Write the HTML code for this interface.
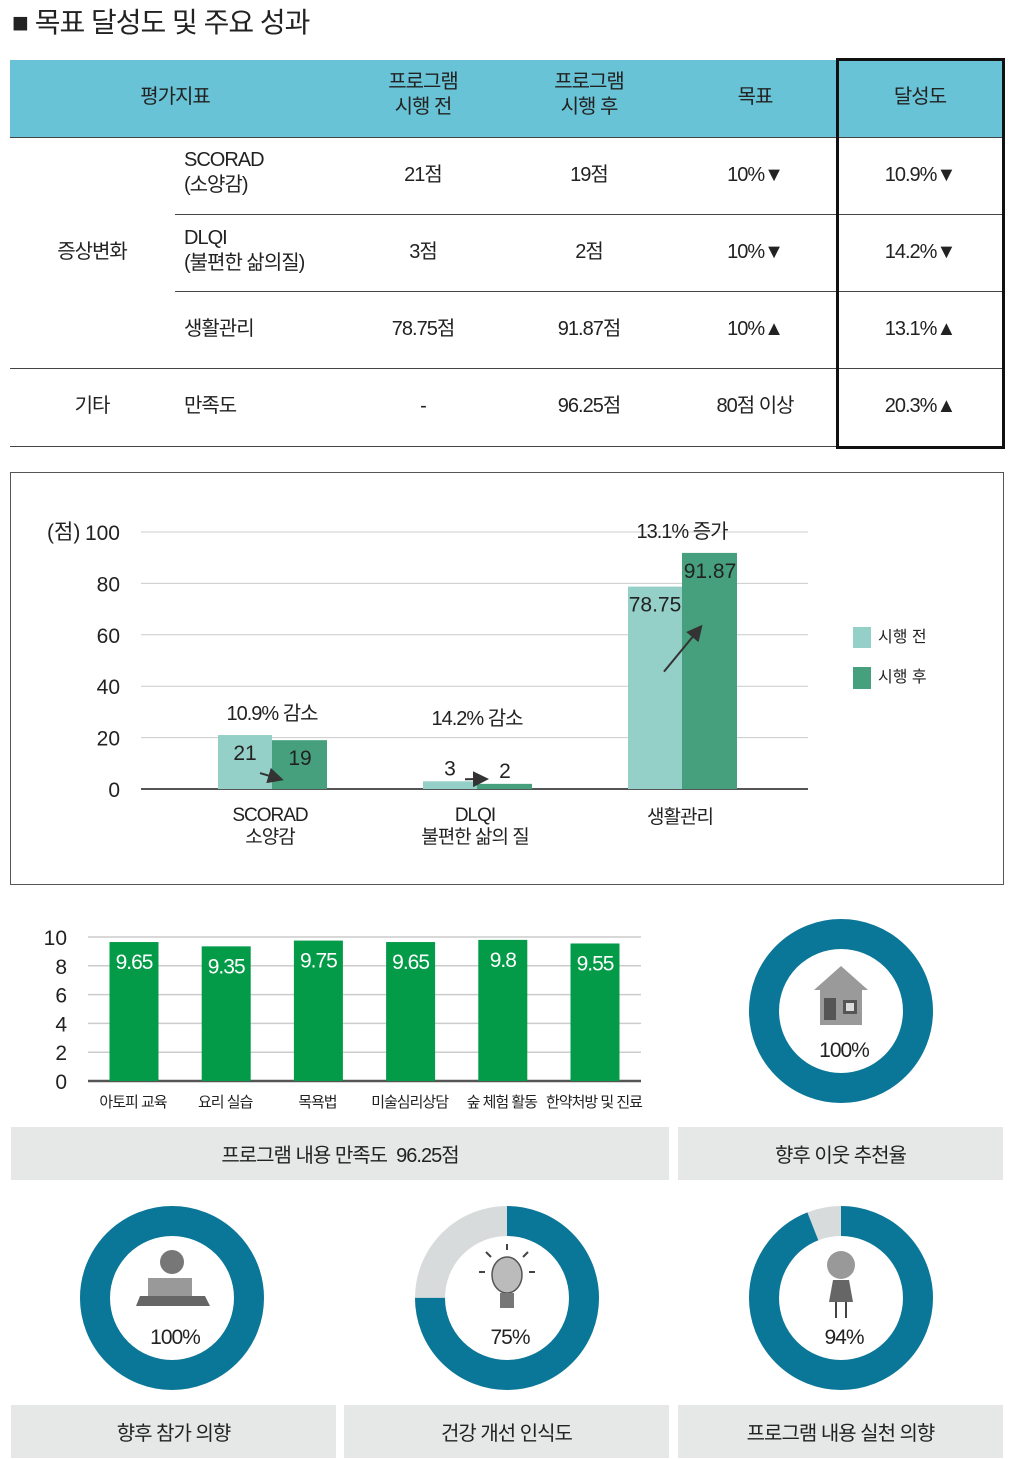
<!DOCTYPE html>
<html><head><meta charset="utf-8">
<style>
body{margin:0;width:1024px;height:1459px;background:#fff;position:relative;overflow:hidden;font-family:"Liberation Sans","Noto Sans CJK KR",sans-serif;color:#222;}
.a{position:absolute;white-space:nowrap;}
.c{transform:translateX(-50%);text-align:center;}
.t{font-size:20px;letter-spacing:-1px;line-height:25px;}
.hl{position:absolute;height:1px;background:#444;}
.lab{position:absolute;background:#e6e7e7;font-size:20px;letter-spacing:-1px;display:flex;align-items:center;justify-content:center;}
</style></head><body>
<div class="a" style="left:12px;top:1px;font-size:28px;letter-spacing:-1px;">■ 목표 달성도 및 주요 성과</div>

<div>
<div class="a" style="left:10px;top:60px;width:993px;height:77px;background:#69c3d6;"></div>
<div class="a t c" style="left:175px;top:85px;">평가지표</div>
<div class="a t c" style="left:423px;top:70px;">프로그램<br>시행 전</div>
<div class="a t c" style="left:589px;top:70px;">프로그램<br>시행 후</div>
<div class="a t c" style="left:755px;top:85px;">목표</div>
<div class="a t c" style="left:920px;top:85px;">달성도</div>
<div class="hl" style="left:10px;top:137px;width:993px;"></div>
<div class="hl" style="left:175px;top:214px;width:828px;"></div>
<div class="hl" style="left:175px;top:291px;width:828px;"></div>
<div class="hl" style="left:10px;top:368px;width:993px;"></div>
<div class="hl" style="left:10px;top:446px;width:993px;"></div>
<div class="a t c" style="left:92px;top:240px;">증상변화</div>
<div class="a t c" style="left:92px;top:394px;">기타</div>
<div class="a t" style="left:184px;top:148px;">SCORAD<br>(소양감)</div>
<div class="a t" style="left:184px;top:226px;">DLQI<br>(불편한 삶의질)</div>
<div class="a t" style="left:184px;top:317px;">생활관리</div>
<div class="a t" style="left:184px;top:394px;">만족도</div>
<div class="a t c" style="left:423px;top:163px;">21점</div><div class="a t c" style="left:589px;top:163px;">19점</div><div class="a t c" style="left:755px;top:163px;">10%▼</div><div class="a t c" style="left:920px;top:163px;">10.9%▼</div>
<div class="a t c" style="left:423px;top:240px;">3점</div><div class="a t c" style="left:589px;top:240px;">2점</div><div class="a t c" style="left:755px;top:240px;">10%▼</div><div class="a t c" style="left:920px;top:240px;">14.2%▼</div>
<div class="a t c" style="left:423px;top:317px;">78.75점</div><div class="a t c" style="left:589px;top:317px;">91.87점</div><div class="a t c" style="left:755px;top:317px;">10%▲</div><div class="a t c" style="left:920px;top:317px;">13.1%▲</div>
<div class="a t c" style="left:423px;top:394px;">-</div><div class="a t c" style="left:589px;top:394px;">96.25점</div><div class="a t c" style="left:755px;top:394px;">80점 이상</div><div class="a t c" style="left:920px;top:394px;">20.3%▲</div>
<div class="a" style="left:836px;top:58px;width:163px;height:385px;border:3px solid #111;"></div>
</div>

<div class="a" style="left:10px;top:472px;width:992px;height:411px;border:1px solid #555;"></div>
<svg class="a" style="left:0;top:0" width="1024" height="1459" id="svg"></svg>

<div class="lab" style="left:11px;top:1127px;width:658px;height:53px;">프로그램 내용 만족도 &nbsp;96.25점</div>
<div class="lab" style="left:678px;top:1127px;width:325px;height:53px;">향후 이웃 추천율</div>
<div class="lab" style="left:11px;top:1405px;width:325px;height:53px;">향후 참가 의향</div>
<div class="lab" style="left:344px;top:1405px;width:325px;height:53px;">건강 개선 인식도</div>
<div class="lab" style="left:678px;top:1405px;width:325px;height:53px;">프로그램 내용 실천 의향</div>

<script>
const groups=["SCORAD\n소양감","DLQI\n불편한 삶의 질","생활관리"];
const beforeVals=[21,3,78.75];
const afterVals=[19,2,91.87];
const changeLabels=["10.9% 감소","14.2% 감소","13.1% 증가"];
const yTicks1=[0,20,40,60,80,100];
const acts=["아토피 교육","요리 실습","목욕법","미술심리상담","숲 체험 활동","한약처방 및 진료"];
const actVals=[9.65,9.35,9.75,9.65,9.8,9.55];
const yTicks2=[0,2,4,6,8,10];
const donutLabels=["100%","100%","75%","94%"];
const donutVals=[100,100,75,94];

const NS="http://www.w3.org/2000/svg";
const svg=document.getElementById('svg');
function mk(tag,at,txt){const e=document.createElementNS(NS,tag);for(const k in at)e.setAttribute(k,at[k]);if(txt!=null)e.textContent=txt;svg.appendChild(e);return e;}
const F='"Liberation Sans","Noto Sans CJK KR",sans-serif';

// chart 1
const y1=v=>789-v*2.57;
const gx=i=>272+i*205;
yTicks1.forEach(t=>{
  const l=mk('line',{x1:141,x2:808,y1:y1(t),y2:y1(t),stroke:t===0?'#555':'#ccc','stroke-width':t===0?2:1});
  
  const tx=mk('text',{x:120,y:y1(t)+8,'text-anchor':'end','font-size':21,'font-family':F,fill:'#222'},t);
  
});
mk('text',{x:47,y:y1(100)+7,'font-size':21,'font-family':F,fill:'#222'},'(점)');
mk('defs',{}).innerHTML='<marker id="ah" markerWidth="8" markerHeight="8" refX="6" refY="4" orient="auto"><path d="M0,0L8,4L0,8z" fill="#333"/></marker>';
groups.forEach((g,i)=>{
  const x=gx(i);
  const b=mk('rect',{x:x-54,y:y1(beforeVals[i]),width:54,height:y1(0)-y1(beforeVals[i]),fill:'#95d0c8'});
  
  const a=mk('rect',{x:x,y:y1(afterVals[i]),width:55,height:y1(0)-y1(afterVals[i]),fill:'#46a07e'});
  
  const top=Math.max(beforeVals[i],afterVals[i]);
  mk('text',{x:x,y:Math.min(y1(top)-15,725),'text-anchor':'middle','font-size':20,'font-family':F,fill:'#222','letter-spacing':-1},changeLabels[i]);
  const bIn=beforeVals[i]>=10, aIn=afterVals[i]>=10;
  mk('text',{x:x-27,y:bIn?y1(beforeVals[i])+25:y1(beforeVals[i])-6,'text-anchor':'middle','font-size':21,'font-family':F,fill:'#222'},String(beforeVals[i]));
  mk('text',{x:x+28,y:aIn?y1(afterVals[i])+25:y1(afterVals[i])-6,'text-anchor':'middle','font-size':21,'font-family':F,fill:'#222'},String(afterVals[i]));
  g.split('\n').forEach((s,j)=>mk('text',{x:x-2,y:821+j*22+(i===2?2:0),'text-anchor':'middle','font-size':19,'font-family':F,fill:'#222','letter-spacing':-1},s));
  // trend arrow
  const ax1=x-12, ay1=(bIn?y1(beforeVals[i])+38:y1(beforeVals[i])-2);
  const ay2=afterVals[i]>beforeVals[i]? y1(afterVals[i])+75 : y1(0)-10;
  const ayStart=afterVals[i]>beforeVals[i]? y1(beforeVals[i])+85 : ay1;
  mk('line',{x1:afterVals[i]>beforeVals[i]?x-18:ax1,y1:ayStart,x2:afterVals[i]>beforeVals[i]?x+18:x+8,y2:ay2,stroke:'#333','stroke-width':2,'marker-end':'url(#ah)'});
});
mk('rect',{x:853,y:627,width:18,height:21,fill:'#95d0c8'});
mk('text',{x:878,y:642,'font-size':16,'font-family':F,fill:'#222'},'시행 전');
mk('rect',{x:853,y:667,width:18,height:22,fill:'#46a07e'});
mk('text',{x:878,y:682,'font-size':16,'font-family':F,fill:'#222'},'시행 후');

// chart 2
const y2=v=>1081-v*14.4;
const ax=i=>134+i*92.2;
yTicks2.forEach(t=>{
  mk('line',{x1:88,x2:641,y1:y2(t),y2:y2(t),stroke:t===0?'#555':'#ccc','stroke-width':t===0?2.5:1.5});
  mk('text',{x:67,y:y2(t)+8,'text-anchor':'end','font-size':21,'font-family':F,fill:'#222'},t);
});
acts.forEach((s,i)=>{
  const r=mk('rect',{x:ax(i)-24.5,y:y2(actVals[i]),width:49,height:y2(0)-y2(actVals[i]),fill:'#039b48'});
  
  mk('text',{x:ax(i),y:y2(actVals[i])+27,'text-anchor':'middle','font-size':21,'font-family':F,fill:'#fff','letter-spacing':-1},String(actVals[i]));
  mk('text',{x:ax(i)-1,y:1107,'text-anchor':'middle','font-size':15,'font-family':F,fill:'#222','letter-spacing':-1},s);
});

// donuts
const centers=[[841,1011],[172,1298],[507,1298],[841,1298]];
donutVals.forEach((v,i)=>{
  const [cx,cy]=centers[i];const R=77,W=30;
  mk('circle',{cx,cy,r:R,fill:'none',stroke:'#d8dbdc','stroke-width':W});
  const circ=2*Math.PI*R;
  const c=mk('circle',{cx,cy,r:R,fill:'none',stroke:'#0a7799','stroke-width':W,'stroke-dasharray':(circ*v/100)+' '+circ,transform:`rotate(-90 ${cx} ${cy})`});
  
  mk('text',{x:cx+3,y:cy+46,'text-anchor':'middle','font-size':21,'font-family':F,fill:'#222','letter-spacing':-1},donutLabels[i]);
});
// icons
mk('path',{d:'M814,990 L841,966 L868,990 L862,990 L862,1025 L820,1025 L820,990 Z',fill:'#9a9a9a'});
mk('rect',{x:824,y:998,width:12,height:22,fill:'#555'});mk('rect',{x:843,y:1000,width:14,height:14,fill:'#555'});mk('rect',{x:846,y:1003,width:8,height:8,fill:'#ddd'});
mk('circle',{cx:172,cy:1262,r:12,fill:'#777'});mk('rect',{x:148,y:1278,width:44,height:20,fill:'#999'});mk('path',{d:'M136,1306 L210,1306 L205,1296 L140,1296 Z',fill:'#666'});
mk('ellipse',{cx:507,cy:1275,rx:15,ry:18,fill:'#bbb',stroke:'#555','stroke-width':1.5});mk('rect',{x:500,y:1293,width:14,height:15,fill:'#777'});
['M491,1257l-5,-5','M523,1257l5,-5','M507,1250v-6','M485,1272h-6','M529,1272h6'].forEach(d=>mk('path',{d,stroke:'#444','stroke-width':2}));
mk('circle',{cx:841,cy:1265,r:14,fill:'#999'});mk('path',{d:'M833,1280 L849,1280 L853,1302 L829,1302 Z',fill:'#666'});mk('path',{d:'M836,1302v16M846,1302v16',stroke:'#444','stroke-width':2});
</script>
</body></html>
